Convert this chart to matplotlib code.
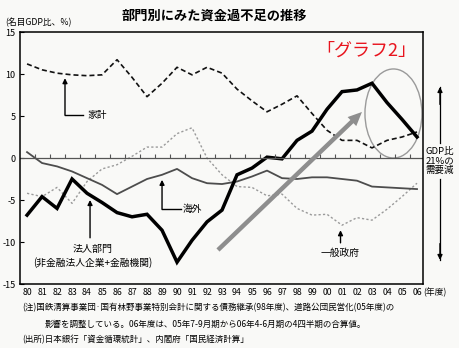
import matplotlib
matplotlib.use("Agg")
import matplotlib.pyplot as plt
from matplotlib.patches import Ellipse
import numpy as np

plt.rcParams["font.family"] = ["Noto Sans CJK JP", "DejaVu Sans"]

# 年度 80..06, 名目GDP比 %
YEARS = ["80", "81", "82", "83", "84", "85", "86", "87", "88", "89",
         "90", "91", "92", "93", "94", "95", "96", "97", "98", "99",
         "00", "01", "02", "03", "04", "05", "06"]
CORPORATE = [-6.8, -4.6, -6.0, -2.5, -4.2, -5.3, -6.5, -7.0, -6.7, -8.6,
             -12.4, -9.8, -7.6, -6.2, -2.0, -1.2, 0.1, -0.1, 2.1, 3.2,
             5.8, 7.9, 8.1, 8.9, 6.6, 4.6, 2.5]
HOUSEHOLD = [11.2, 10.5, 10.1, 9.9, 9.8, 9.9, 11.7, 9.6, 7.3, 8.9,
             10.8, 9.9, 10.8, 10.1, 8.2, 6.8, 5.5, 6.4, 7.4, 5.3,
             3.3, 2.1, 2.1, 1.2, 2.1, 2.5, 3.1]
OVERSEAS = [0.7, -0.6, -1.0, -1.6, -2.4, -3.2, -4.3, -3.4, -2.5, -2.0,
            -1.3, -2.4, -3.0, -3.1, -2.8, -2.2, -1.5, -2.4, -2.5, -2.3,
            -2.3, -2.5, -2.7, -3.4, -3.5, -3.6, -3.7]
GOVERNMENT = [-4.2, -4.6, -3.5, -5.4, -2.8, -1.3, -0.8, 0.2, 1.3, 1.3,
              2.9, 3.6, 0.0, -2.0, -3.4, -3.5, -4.5, -4.3, -6.0, -6.8,
              -6.7, -8.0, -7.1, -7.4, -6.1, -4.6, -3.0]

NOTE1 = "(注)国鉄清算事業団·国有林野事業特別会計に関する債務継承(98年度)、道路公団民営化(05年度)の"
NOTE2 = "影響を調整している。06年度は、05年7-9月期から06年4-6月期の4四半期の合算値。"
NOTE3 = "(出所)日本銀行「資金循環統計」、内閣府「国民経済計算」"

x = np.arange(len(YEARS))

fig = plt.figure(figsize=(4.6, 3.48), dpi=100, facecolor="#f9f9f7")
ax = fig.add_axes([20 / 460, 64 / 348, 403 / 460, 252 / 348])
ax.set_facecolor("#f9f9f7")

ax.plot(x, GOVERNMENT, color="#9a9a9a", lw=1.0, dashes=(1.6, 1.6))
ax.plot(x, OVERSEAS, color="#4d4d4d", lw=1.3)
ax.plot(x, HOUSEHOLD, color="#111111", lw=1.2, dashes=(3.0, 1.8))
ax.plot(x, CORPORATE, color="#000000", lw=2.5, solid_joinstyle="miter")

ax.axhline(0, color="#555555", lw=0.9)
ax.vlines(x[:-1] + 0.5, 0, 0.45, color="#555555", lw=0.8)

ax.set_xlim(-0.47, 26.4)
ax.set_ylim(-15, 15)
ax.set_yticks([15, 10, 5, 0, -5, -10, -15])
ax.set_yticklabels(["15", "10", "5", "0", "-5", "-10", "-15"])
ax.set_xticks(x)
ax.set_xticklabels(YEARS)
ax.tick_params(axis="x", length=0, labelsize=6.3, pad=3)
ax.tick_params(axis="y", direction="in", length=3, labelsize=6.5, pad=3)
for s in ax.spines.values():
    s.set_linewidth(1.1)
ax.text(26.4, -15.95, "(年度)", ha="left", va="center", fontsize=6.3,
        clip_on=False)

# 注記の矢印
arrow = dict(arrowstyle="-|>", color="black", lw=1.0, mutation_scale=7,
             shrinkA=0, shrinkB=0)
ax.annotate("", xy=(2.53, 9.5), xytext=(2.53, 5.1), arrowprops=arrow)
ax.plot([2.53, 3.75], [5.1, 5.1], color="black", lw=1.0)
ax.text(4.0, 5.1, "家計", ha="left", va="center", fontsize=7)

ax.annotate("", xy=(9.0, -2.6), xytext=(9.0, -6.1), arrowprops=arrow)
ax.plot([9.0, 10.25], [-6.1, -6.1], color="black", lw=1.0)
ax.text(10.4, -6.1, "海外", ha="left", va="center", fontsize=7)

ax.annotate("", xy=(4.2, -5.0), xytext=(4.2, -9.5), arrowprops=arrow)
ax.text(4.35, -10.8, "法人部門", ha="center", va="center", fontsize=7.2)
ax.text(4.35, -12.4, "(非金融法人企業+金融機関)", ha="center", va="center",
        fontsize=7)

ax.annotate("", xy=(20.9, -8.6), xytext=(20.9, -10.1), arrowprops=arrow)
ax.text(20.9, -11.3, "一般政府", ha="center", va="center", fontsize=7)

# 灰色の矢印と楕円
ax.annotate("", xy=(22.33, 5.48), xytext=(12.73, -10.95),
            arrowprops=dict(facecolor="#8e8e8e", edgecolor="none", width=3.2,
                            headwidth=9, headlength=10, shrink=0))
ax.add_patch(Ellipse((24.43, 5.3), 3.8, 10.6, fill=False,
                     edgecolor="#9a9a9a", lw=1.0))

ax.text(22.6, 12.74, "「グラフ2」", color="#e8141e", ha="center",
        va="center", fontsize=13)

# 右側の需要減
fx = 440 / 460
fig.add_artist(plt.Line2D([fx, fx], [0.59, 0.75], color="black", lw=0.9))
fig.add_artist(plt.Line2D([fx, fx], [0.253, 0.485], color="black", lw=0.9))
ax.annotate("", xy=(fx, 0.75), xytext=(fx, 0.70), xycoords="figure fraction",
            arrowprops=arrow)
ax.annotate("", xy=(fx, 0.253), xytext=(fx, 0.30), xycoords="figure fraction",
            arrowprops=arrow)
fig.text(fx, 0.537, "GDP比\n21%の\n需要減", ha="center", va="center",
         fontsize=6.8, linespacing=1.05)

fig.text(214 / 460, 0.954, "部門別にみた資金過不足の推移", ha="center",
         va="center", fontsize=9.5, fontweight="bold")
fig.text(5 / 460, 0.934, "(名目GDP比、%)", ha="left", va="center",
         fontsize=6.3)

fig.text(22 / 460, 0.115, NOTE1, ha="left", va="center", fontsize=6.1)
fig.text(45 / 460, 0.069, NOTE2, ha="left", va="center", fontsize=6.1)
fig.text(22 / 460, 0.023, NOTE3, ha="left", va="center", fontsize=6.1)

fig.savefig("out.png", dpi=100, facecolor=fig.get_facecolor())
